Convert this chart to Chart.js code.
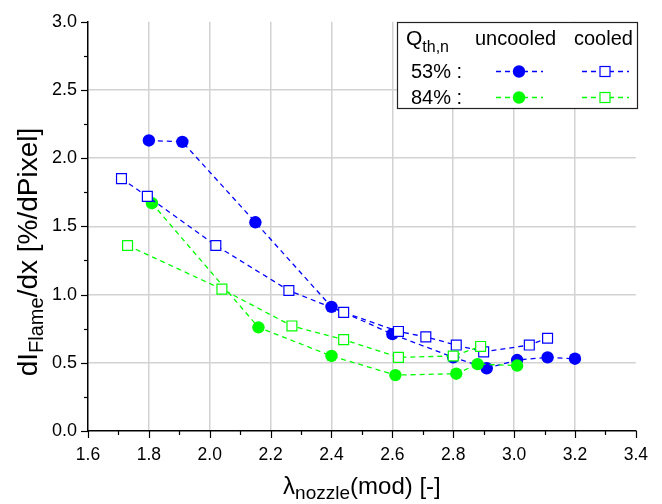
<!DOCTYPE html>
<html>
<head>
<meta charset="utf-8">
<script src="https://cdn.jsdelivr.net/npm/chart.js@4"></script>
<style>
  html, body { margin: 0; padding: 0; background: #ffffff; }
  #wrap { width: 662px; height: 504px; position: relative; }
</style>
</head>
<body>
<div id="wrap"><canvas id="c" width="662" height="504"></canvas></div>
<script>
// ---- data ----
const xUncooled53 = [1.80, 1.91, 2.15, 2.40, 2.60, 2.80, 2.91, 3.01, 3.11, 3.20];
const yUncooled53 = [2.13, 2.12, 1.53, 0.91, 0.71, 0.54, 0.46, 0.52, 0.54, 0.53];
const xCooled53   = [1.71, 1.795, 2.02, 2.26, 2.44, 2.62, 2.71, 2.81, 2.90, 3.05, 3.11];
const yCooled53   = [1.85, 1.72, 1.36, 1.03, 0.87, 0.73, 0.69, 0.63, 0.58, 0.63, 0.68];
const xUncooled84 = [1.81, 2.16, 2.40, 2.61, 2.81, 2.88, 3.01];
const yUncooled84 = [1.67, 0.76, 0.55, 0.41, 0.42, 0.49, 0.48];
const xCooled84   = [1.73, 2.04, 2.27, 2.44, 2.62, 2.80, 2.89];
const yCooled84   = [1.36, 1.04, 0.77, 0.67, 0.54, 0.55, 0.62];

const legendRows = ["53% :", "84% :"];
const legendCols = ["uncooled", "cooled"];
const xTitleMain = "\u03bb", xTitleSub = "nozzle", xTitleRest = "(mod) [-]";
const yTitleMain = "dI", yTitleSub = "Flame", yTitleRest = "/dx [%/dPixel]";

const BLUE = "#0000ff", GREEN = "#00ff00";
const FONT = '"Liberation Sans", Arial, sans-serif';
const DASH = [5, 4];

function pts(xs, ys) { return xs.map((x, i) => ({ x: x, y: ys[i] })); }

function series(label, xs, ys, color, filled, order) {
  return {
    label: label,
    data: pts(xs, ys),
    showLine: true,
    borderColor: color,
    borderWidth: 1.3,
    borderDash: DASH,
    pointStyle: filled ? "circle" : "rect",
    pointRadius: filled ? 6.2 : 7,
    pointBorderWidth: filled ? 0 : 1.2,
    pointBackgroundColor: filled ? color : "#ffffff",
    pointBorderColor: color,
    pointHoverRadius: filled ? 6.2 : 7,
    order: order
  };
}

const isMajorX = v => Math.round(v * 10) % 2 === 0;
const isMajorY = v => Math.round(v * 100) % 50 === 0;

function drawRich(ctx, parts) {
  let x = 0;
  for (const p of parts) {
    ctx.font = p[1] + "px " + FONT;
    ctx.fillText(p[0], x, p[2]);
    x += ctx.measureText(p[0]).width;
  }
}
function richWidth(ctx, parts) {
  let w = 0;
  for (const p of parts) { ctx.font = p[1] + "px " + FONT; w += ctx.measureText(p[0]).width; }
  return w;
}

const decorPlugin = {
  id: "decor",
  afterDraw(chart) {
    const ctx = chart.ctx;
    const xs = chart.scales.x, ys = chart.scales.y;
    const a = chart.chartArea;
    ctx.save();
    // tick marks
    ctx.strokeStyle = "#000000";
    ctx.lineWidth = 1.2;
    xs.ticks.forEach(t => {
      const px = Math.round(xs.getPixelForValue(t.value)) + 0.5;
      const len = isMajorX(t.value) ? 7 : 4;
      ctx.beginPath(); ctx.moveTo(px, a.bottom); ctx.lineTo(px, a.bottom + len); ctx.stroke();
    });
    ys.ticks.forEach(t => {
      const py = Math.round(ys.getPixelForValue(t.value)) + 0.5;
      const len = isMajorY(t.value) ? 7 : 4;
      ctx.beginPath(); ctx.moveTo(a.left, py); ctx.lineTo(a.left - len, py); ctx.stroke();
    });

    // axis titles
    ctx.fillStyle = "#000000";
    ctx.textBaseline = "alphabetic";
    ctx.textAlign = "left";
    const xParts = [[xTitleMain, 24, 0], [xTitleSub, 19, 5], [xTitleRest, 24, 0]];
    const xw = richWidth(ctx, xParts);
    ctx.save();
    ctx.translate((a.left + a.right) / 2 - xw / 2, 494);
    drawRich(ctx, xParts);
    ctx.restore();

    const yParts = [[yTitleMain, 28, 0], [yTitleSub, 20, 6], [yTitleRest, 28, 0]];
    const yw = richWidth(ctx, yParts);
    ctx.save();
    ctx.translate(37, 252 + yw / 2);
    ctx.rotate(-Math.PI / 2);
    drawRich(ctx, yParts);
    ctx.restore();

    // legend box
    const bx = 397, by = 22, bw = 240, bh = 86;
    ctx.fillStyle = "#ffffff";
    ctx.fillRect(bx, by, bw, bh);
    ctx.strokeStyle = "#222222";
    ctx.lineWidth = 1.2;
    ctx.strokeRect(bx + 0.5, by + 0.5, bw, bh);

    ctx.fillStyle = "#000000";
    ctx.save();
    ctx.translate(406, 45);
    drawRich(ctx, [["Q", 21, 0], ["th,n", 16, 7]]);
    ctx.restore();
    ctx.font = "20px " + FONT;
    ctx.fillText(legendCols[0], 475, 45);
    ctx.fillText(legendCols[1], 574, 45);
    ctx.fillText(legendRows[0], 411, 78);
    ctx.fillText(legendRows[1], 411, 104);

    const rowsY = [71, 97];
    const colors = [BLUE, GREEN];
    rowsY.forEach((yy, i) => {
      ctx.strokeStyle = colors[i];
      ctx.lineWidth = 1.3;
      ctx.setLineDash(DASH);
      ctx.beginPath(); ctx.moveTo(496, yy + 0.5); ctx.lineTo(543, yy + 0.5); ctx.stroke();
      ctx.beginPath(); ctx.moveTo(582, yy + 0.5); ctx.lineTo(629, yy + 0.5); ctx.stroke();
      ctx.setLineDash([]);
      ctx.lineWidth = 1.2;
      ctx.fillStyle = colors[i];
      ctx.beginPath(); ctx.arc(519, yy + 0.5, 6.2, 0, Math.PI * 2); ctx.fill();
      ctx.fillStyle = "#ffffff";
      ctx.fillRect(600, yy - 4.5, 10, 10);
      ctx.strokeRect(600, yy - 4.5, 10, 10);
    });
    ctx.restore();
  }
};

new Chart(document.getElementById("c"), {
  type: "scatter",
  data: {
    datasets: [
      series("84% cooled", xCooled84, yCooled84, GREEN, false, 0),
      series("53% cooled", xCooled53, yCooled53, BLUE, false, 1),
      series("84% uncooled", xUncooled84, yUncooled84, GREEN, true, 2),
      series("53% uncooled", xUncooled53, yUncooled53, BLUE, true, 3)
    ]
  },
  options: {
    responsive: false,
    animation: false,
    devicePixelRatio: 1,
    layout: { padding: { left: 0, top: 18, right: 12, bottom: 0 } },
    plugins: { legend: { display: false }, tooltip: { enabled: false } },
    scales: {
      x: {
        type: "linear",
        min: 1.6, max: 3.4,
        ticks: {
          stepSize: 0.1,
          autoSkip: false,
          maxRotation: 0,
          padding: 14,
          color: "#000000",
          font: { family: FONT, size: 17.5 },
          callback: v => isMajorX(v) ? Number(v).toFixed(1) : ""
        },
        grid: {
          drawTicks: false,
          lineWidth: 1.5,
          color: c => {
            const v = c.tick ? c.tick.value : 0;
            if (!isMajorX(v) || Math.abs(v - 1.6) < 1e-6 || Math.abs(v - 3.4) < 1e-6) return "rgba(0,0,0,0)";
            return "#d2d2d2";
          }
        },
        border: { display: true, color: "#000000", width: 1.5 },
        afterFit: s => { s.height = 73; }
      },
      y: {
        type: "linear",
        min: 0, max: 3.0,
        ticks: {
          stepSize: 0.25,
          autoSkip: false,
          padding: 11,
          color: "#000000",
          font: { family: FONT, size: 18 },
          callback: v => isMajorY(v) ? Number(v).toFixed(1) : ""
        },
        grid: {
          drawTicks: false,
          lineWidth: 1.5,
          color: c => {
            const v = c.tick ? c.tick.value : 0;
            if (!isMajorY(v) || v < 1e-6 || Math.abs(v - 3.0) < 1e-6) return "rgba(0,0,0,0)";
            return "#d2d2d2";
          }
        },
        border: { display: true, color: "#000000", width: 1.5 },
        afterFit: s => { s.width = 88; }
      }
    }
  },
  plugins: [decorPlugin]
});
</script>
</body>
</html>
